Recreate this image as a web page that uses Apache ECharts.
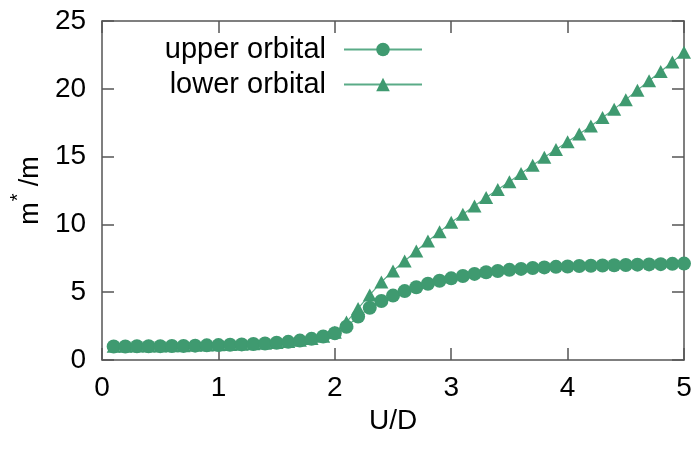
<!DOCTYPE html>
<html>
<head>
<meta charset="utf-8">
<script src="https://cdn.jsdelivr.net/npm/echarts@6/dist/echarts.min.js"></script>
<style>html,body{margin:0;padding:0;background:#fff}#c{width:695px;height:459px}</style>
</head>
<body>
<div id="c"></div>
<script>
var uValues = [0.1,0.2,0.3,0.4,0.5,0.6,0.7,0.8,0.9,1.0,1.1,1.2,1.3,1.4,1.5,1.6,1.7,1.8,1.9,2.0,2.1,2.2,2.3,2.4,2.5,2.6,2.7,2.8,2.9,3.0,3.1,3.2,3.3,3.4,3.5,3.6,3.7,3.8,3.9,4.0,4.1,4.2,4.3,4.4,4.5,4.6,4.7,4.8,4.9,5.0];
var upperOrbital = [1.00,1.00,1.01,1.01,1.02,1.03,1.04,1.06,1.08,1.10,1.12,1.15,1.18,1.22,1.27,1.34,1.43,1.56,1.73,1.97,2.45,3.20,3.85,4.35,4.75,5.08,5.37,5.62,5.84,6.02,6.20,6.35,6.47,6.56,6.65,6.72,6.78,6.83,6.87,6.90,6.93,6.95,6.97,6.99,7.01,7.03,7.05,7.07,7.09,7.11];
var lowerOrbital = [1.02,1.02,1.03,1.03,1.04,1.05,1.06,1.08,1.10,1.12,1.14,1.17,1.20,1.24,1.29,1.36,1.45,1.58,1.76,2.05,2.80,3.80,4.80,5.75,6.57,7.30,8.04,8.78,9.45,10.15,10.75,11.35,11.98,12.58,13.15,13.76,14.37,14.95,15.53,16.10,16.67,17.25,17.88,18.50,19.20,19.90,20.60,21.27,21.97,22.70];
var seriesNames = ['upper orbital', 'lower orbital'];
var xTicks = [0,1,2,3,4,5];
var yTicks = [0,5,10,15,20,25];

function pairs(ys){ return uValues.map(function(x,i){ return [x, ys[i]]; }); }

var FONT = 'Liberation Sans';
var GREEN = '#3f9a70';
var LINE = '#5aab87';
var BORDER = '#555555';

var chart = echarts.init(document.getElementById('c'), null, {renderer:'canvas'});
var axisLine = {show:true, onZero:false, lineStyle:{color:BORDER, width:1.5}};
var axisTick = {show:true, inside:true, length:12, lineStyle:{color:BORDER, width:1.5}};
chart.setOption({
  animation:false,
  backgroundColor:'#fff',
  grid:{left:98, right:11, top:21, bottom:99, containLabel:false},
  legend:{
    orient:'vertical', right:267, top:30, align:'right', padding:5,
    itemWidth:78, itemHeight:17, itemGap:6,
    textStyle:{fontFamily:FONT, fontSize:29, color:'#000', lineHeight:29, padding:[0,13,0,0]},
    data:seriesNames
  },
  xAxis:[{
    type:'value', min:0, max:5, interval:1, position:'bottom',
    axisLine:axisLine, axisTick:axisTick, splitLine:{show:false},
    axisLabel:{fontFamily:FONT, fontSize:28, color:'#000', margin:14,
      formatter:function(v){ return xTicks.indexOf(v)>=0 ? String(v) : ''; }},
    name:'U/D', nameLocation:'middle', nameGap:35,
    nameTextStyle:{fontFamily:FONT, fontSize:28, color:'#000'}
  },{
    type:'value', min:0, max:5, interval:1, position:'top',
    axisLine:axisLine, axisTick:axisTick, splitLine:{show:false}, axisLabel:{show:false}
  }],
  yAxis:[{
    type:'value', min:0, max:25, interval:5, position:'left',
    axisLine:axisLine, axisTick:axisTick, splitLine:{show:false},
    axisLabel:{fontFamily:FONT, fontSize:28, color:'#000', margin:16,
      formatter:function(v){ return yTicks.indexOf(v)>=0 ? String(v) : ''; }},
    name:'{a|m}{b|*}{a|/m}', nameLocation:'middle', nameGap:38, nameRotate:90,
    nameTextStyle:{fontFamily:FONT, fontSize:27, color:'#000',
      rich:{a:{fontFamily:FONT, fontSize:27, color:'#000', lineHeight:36, verticalAlign:'bottom'},
            b:{fontFamily:FONT, fontSize:20, color:'#000', lineHeight:36, verticalAlign:'top', padding:[0,7,0,1]}}}
  },{
    type:'value', min:0, max:25, interval:5, position:'right',
    axisLine:axisLine, axisTick:axisTick, splitLine:{show:false}, axisLabel:{show:false}
  }],
  series:[{
    name:seriesNames[0], type:'line', data:pairs(upperOrbital),
    symbol:'circle', symbolSize:14, showAllSymbol:true,
    itemStyle:{color:GREEN}, lineStyle:{color:LINE, width:1.2}, z:3
  },{
    name:seriesNames[1], type:'line', data:pairs(lowerOrbital),
    symbol:'triangle', symbolSize:[14,13], showAllSymbol:true,
    itemStyle:{color:GREEN}, lineStyle:{color:LINE, width:1.2}, z:2
  }]
});
</script>
</body>
</html>
